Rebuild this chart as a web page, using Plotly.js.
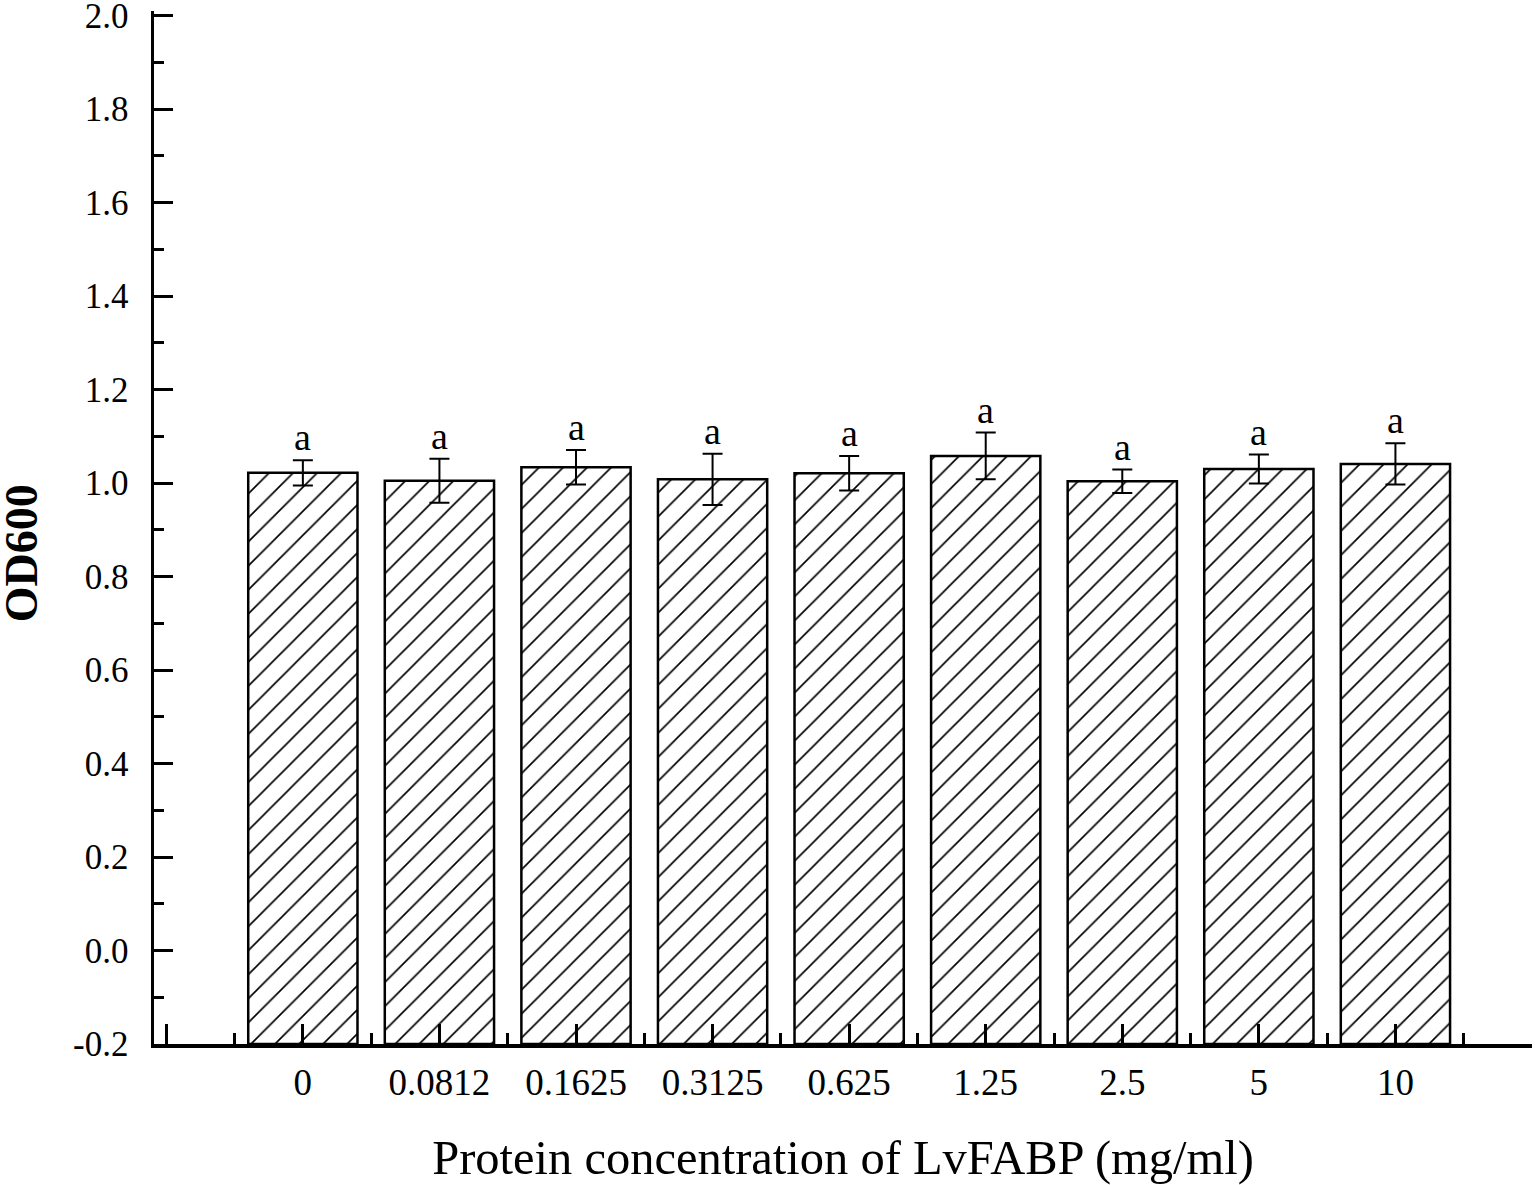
<!DOCTYPE html>
<html>
<head>
<meta charset="utf-8">
<script src="https://cdn.plot.ly/plotly-3.0.1.min.js"></script>
<style>
  html, body { margin: 0; padding: 0; background: #fff; }
  #plot1 { width: 1535px; height: 1185px; }
</style>
</head>
<body>
<div id="plot1"></div>
<script>
// protein concentrations (mg/ml), one bar each
let concentrations = ['0', '0.0812', '0.1625', '0.3125', '0.625', '1.25', '2.5', '5', '10'];

// mean OD600
let od600 = [1.022, 1.005, 1.034, 1.008, 1.021, 1.058, 1.004, 1.030, 1.041];

// standard deviation (error bar half length)
let od600Err = [0.027, 0.047, 0.037, 0.055, 0.037, 0.050, 0.025, 0.031, 0.044];

// significance letters above the bars
let letters = ['a', 'a', 'a', 'a', 'a', 'a', 'a', 'a', 'a'];

// y tick labels (hyphen minus as in the original)
let yTickVals = [-0.2, 0, 0.2, 0.4, 0.6, 0.8, 1.0, 1.2, 1.4, 1.6, 1.8, 2.0];
let yTickText = ['-0.2', '0.0', '0.2', '0.4', '0.6', '0.8', '1.0', '1.2', '1.4', '1.6', '1.8', '2.0'];

// bars are drawn up from the bottom of the axis
let yBottom = -0.2;

let xPos = concentrations.map((c, i) => i);
let serif = 'Liberation Serif, Times New Roman, serif';

let trace1 = {
    x: xPos,
    y: od600.map(v => v - yBottom),
    base: yBottom,
    type: 'bar',
    width: 0.8,
    marker: {
        color: 'white',
        line: { color: 'black', width: 2.5 },
        pattern: { shape: '/', fgcolor: 'black', bgcolor: 'white', size: 17, solidity: 0.1 }
    },
    error_y: { type: 'data', array: od600Err, visible: true, color: 'black', thickness: 2, width: 10 },
    hoverinfo: 'skip'
};

// letters sit just above each error bar
let notes = xPos.map((x, i) => ({
    x: x,
    y: od600[i] + od600Err[i],
    text: letters[i],
    showarrow: false,
    yanchor: 'bottom',
    yshift: 0,
    font: { family: serif, size: 38, color: 'black' }
}));

// y axis title placed by hand so it sits where the original has it
notes.push({
    xref: 'paper', yref: 'paper',
    x: 0, y: 0.475,
    xanchor: 'center', yanchor: 'middle',
    xshift: -133,
    textangle: -90,
    text: '<b>OD600</b>',
    showarrow: false,
    font: { family: serif, size: 46, color: 'black' }
});

let minorY = [];
for (let i = 0; i < yTickVals.length - 1; i++) minorY.push((yTickVals[i] + yTickVals[i + 1]) / 2);

let layout = {
    width: 1535,
    height: 1185,
    margin: { l: 154, r: 3, t: 11, b: 141 },
    paper_bgcolor: 'white',
    plot_bgcolor: 'white',
    showlegend: false,
    font: { family: serif, color: 'black' },
    xaxis: {
        range: [-1.09, 9.0],
        tickmode: 'array',
        tickvals: [-1].concat(xPos),
        ticktext: [''].concat(concentrations),
        ticks: 'inside',
        ticklen: 20,
        tickwidth: 3,
        tickcolor: 'black',
        ticklabelstandoff: 3,
        tickfont: { family: serif, size: 37, color: 'black' },
        minor: {
            tickmode: 'array',
            tickvals: [-0.5, 0.5, 1.5, 2.5, 3.5, 4.5, 5.5, 6.5, 7.5, 8.5, 9],
            ticks: 'inside', ticklen: 11, tickwidth: 3, tickcolor: 'black'
        },
        showline: true,
        linecolor: 'black',
        linewidth: 3.5,
        showgrid: false,
        zeroline: false,
        title: {
            text: 'Protein concentration of LvFABP (mg/ml)',
            font: { family: serif, size: 48.5, color: 'black' },
            standoff: 50
        }
    },
    yaxis: {
        range: [-0.2, 2.01],
        tickmode: 'array',
        tickvals: yTickVals,
        ticktext: yTickText,
        ticks: 'inside',
        ticklen: 19,
        tickwidth: 3,
        tickcolor: 'black',
        ticklabelstandoff: 15,
        ticklabeloverflow: 'allow',
        tickfont: { family: serif, size: 35, color: 'black' },
        minor: { tickmode: 'array', tickvals: minorY, ticks: 'inside', ticklen: 10, tickwidth: 3, tickcolor: 'black' },
        showline: true,
        linecolor: 'black',
        linewidth: 3.5,
        showgrid: false,
        zeroline: false
    },
    annotations: notes
};

Plotly.newPlot('plot1', [trace1], layout, { displayModeBar: false, staticPlot: true });
</script>
</body>
</html>
